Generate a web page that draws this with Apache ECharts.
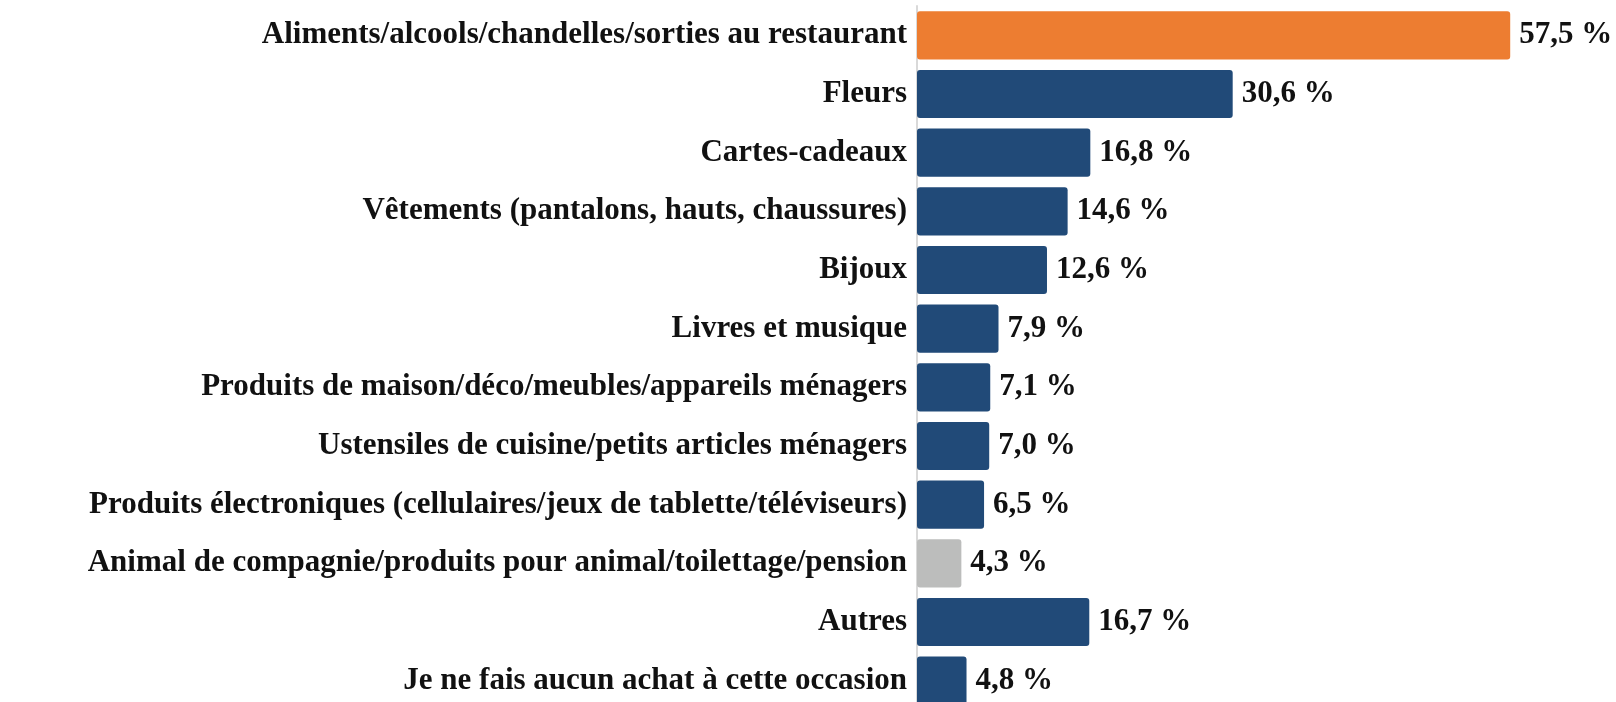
<!DOCTYPE html>
<html>
<head>
<meta charset="utf-8">
<script src="https://cdn.jsdelivr.net/npm/echarts@6/dist/echarts.min.js"></script>
<style>
  html, body { margin: 0; padding: 0; background: #fff; }
  #chart { width: 1616px; height: 702px; }
</style>
</head>
<body>
<div id="chart"></div>
<script>
// categories, top to bottom
const categories = [
  'Aliments/alcools/chandelles/sorties au restaurant',
  'Fleurs',
  'Cartes-cadeaux',
  'Vêtements (pantalons, hauts, chaussures)',
  'Bijoux',
  'Livres et musique',
  'Produits de maison/déco/meubles/appareils ménagers',
  'Ustensiles de cuisine/petits articles ménagers',
  'Produits électroniques (cellulaires/jeux de tablette/téléviseurs)',
  'Animal de compagnie/produits pour animal/toilettage/pension',
  'Autres',
  'Je ne fais aucun achat à cette occasion'
]
const values = [57.5, 30.6, 16.8, 14.6, 12.6, 7.9, 7.1, 7.0, 6.5, 4.3, 16.7, 4.8]

const orangeCat = 'Aliments/alcools/chandelles/sorties au restaurant'
const greyCat = 'Animal de compagnie/produits pour animal/toilettage/pension'

const font = '"Liberation Serif", "DejaVu Serif", serif'

const chart = echarts.init(document.getElementById('chart'))
chart.setOption({
  backgroundColor: '#fff',
  animation: false,
  grid: {
    left: 917,
    width: 619,
    top: 6,
    height: 704,
    outerBoundsMode: 'none'
  },
  xAxis: {
    type: 'value',
    min: 0,
    max: 60,
    show: false
  },
  yAxis: {
    type: 'category',
    data: categories,
    inverse: true,
    axisLine: { lineStyle: { color: '#d9d9d9', width: 2 } },
    axisTick: { length: 10, lineStyle: { color: '#d9d9d9', width: 2 } },
    axisLabel: {
      margin: 10,
      color: '#111',
      fontFamily: font,
      fontWeight: 'bold',
      fontSize: 31
    }
  },
  series: [
    {
      type: 'bar',
      data: values,
      barCategoryGap: '18%',
      itemStyle: {
        borderRadius: 3,
        color: function(params) {
          if (params.name === orangeCat) return '#ed7d31'
          if (params.name === greyCat) return '#bcbdbc'
          return '#214a78'
        }
      },
      label: {
        show: true,
        position: 'right',
        distance: 9,
        color: '#111',
        fontFamily: font,
        fontWeight: 'bold',
        fontSize: 31,
        formatter: function(p) {
          return p.value.toFixed(1).replace('.', ',') + ' %'
        }
      }
    }
  ]
})
</script>
</body>
</html>
